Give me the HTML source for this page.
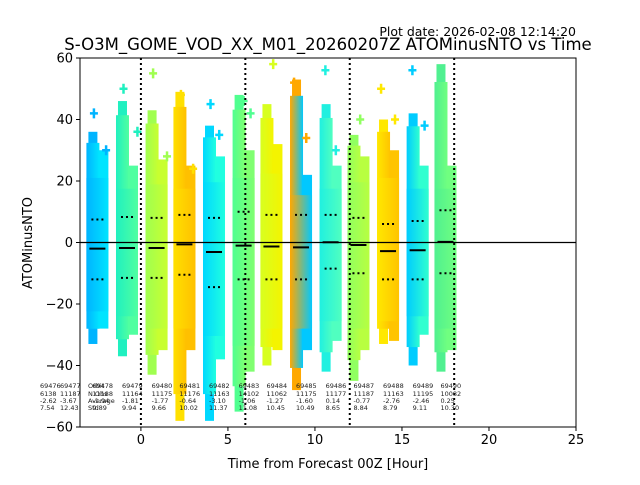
<!DOCTYPE html>
<html><head><meta charset="utf-8"><style>
body{margin:0;background:#fff;}
svg text{font-family:"DejaVu Sans","Liberation Sans",sans-serif;}
</style></head><body>
<svg id="chart" width="640" height="480" xmlns="http://www.w3.org/2000/svg">
<defs id="defs"></defs>
<text x="576" y="36" font-size="12.5" text-anchor="end">Plot date: 2026-02-08 12:14:20</text>
<text x="328" y="50" font-size="16.5" text-anchor="middle">S-O3M_GOME_VOD_XX_M01_20260207Z ATOMinusNTO vs Time</text>
<g id="plot"></g>
<text x="328" y="468" font-size="13" text-anchor="middle">Time from Forecast 00Z [Hour]</text>
<text x="32" y="243" font-size="13" text-anchor="middle" transform="rotate(-90 32 243)">ATOMinusNTO</text>
</svg>
<script>
const times=[-2.5,-0.8,0.9,2.5,4.2,5.9,7.5,9.2,10.9,12.5,14.2,15.9,17.5];
const mainTop=[36,46,43,49,38,48,45,53,45,35,40,42,58];
const mainBot=[-33,-37,-43,-58,-58,-55,-40,-48,-42,-45,-33,-40,-42];
const secTop=[30,25,27,25,28,30,32,22,25,28,30,25,25];
const secBot=[-28,-30,-35,-35,-38,-42,-35,-35,-32,-35,-32,-30,-35];
const means=[-2,-1.8,-1.8,-0.6,-3.1,-1,-1.3,-1.6,0.1,-0.8,-2.8,-2.5,0.2];
const upperDots=[7.5,8.3,8,9,8,10,9,9,9,8,6,7,10.5];
const lowerDots=[-12,-11.5,-11.5,-10.5,-14.5,-12,-12,-12,-8.5,-10,-12,-12,-10];
const colorA=["#00b4ff","#20f0c0","#a0ff50","#ffe000","#00d8ff","#50ff90","#d8ff20","#ffa800","#20f0e0","#90ff60","#ffe800","#00ccff","#50f090"];
const colorB=["#00e4ff","#50ffa0","#c8ff30","#ffc000","#20ffe0","#80ff70","#f4f400","#00c8ff","#50ffc0","#b8ff40","#ffc400","#30ffd0","#70ff80"];
const outlierT=[-2.7,-2.0,-1.0,-0.2,0.7,1.5,2.3,3.0,4.0,4.5,5.9,6.3,7.6,8.8,9.5,10.6,11.2,12.6,13.8,14.6,15.6,16.3];
const outlierV=[42,30,50,36,55,28,48,24,45,35,46,42,58,52,34,56,30,40,50,40,56,38];
const orbits=["69478","69479","69480","69481","69482","69483","69484","69485","69486","69487","69488","69489","69490"];
const nobs=["11188","11164","11175","11176","11163","14102","11062","11175","11177","11187","11163","11195","10082"];
const avgs=["-1.94","-1.81","-1.77","-0.64","-3.10","-1.06","-1.27","-1.60","0.14","-0.77","-2.76","-2.46","0.25"];
const stds=["9.89","9.94","9.66","10.02","11.37","11.08","10.45","10.49","8.65","8.84","8.79","9.11","10.30"];
const xTicks=[0,5,10,15,20,25];
const yTicks=[-60,-40,-20,0,20,40,60];
const forecastLines=[0,6,12,18];

const X0=80,X1=576,Y0=58,Y1=427;
const xmin=-3.5,xmax=25,ymin=-60,ymax=60;
const sx=v=>X0+(v-xmin)/(xmax-xmin)*(X1-X0);
const sy=v=>Y1-(v-ymin)/(ymax-ymin)*(Y1-Y0);
const NS="http://www.w3.org/2000/svg";
const plot=document.getElementById('plot');
const defs=document.getElementById('defs');
function mk(tag,attrs,parent){const e=document.createElementNS(NS,tag);for(const k in attrs)e.setAttribute(k,attrs[k]);(parent||plot).appendChild(e);return e;}

times.forEach((t,i)=>{
  const g=mk('linearGradient',{id:'g'+i,x1:0,x2:1,y1:0,y2:0},defs);
  mk('stop',{offset:0,'stop-color':colorA[i]},g);mk('stop',{offset:1,'stop-color':colorB[i]},g);
  const c=sx(t);
  const grp=mk('g',{});
  
  
  const r2=mk('rect',{x:c-9,y:sy(mainTop[i]),width:9,height:sy(mainBot[i])-sy(mainTop[i]),fill:colorA[i]},grp);
  
  
  const r1=mk('rect',{x:c-11,y:sy(mainTop[i]*0.9),width:13,height:sy(mainBot[i]*0.85)-sy(mainTop[i]*0.9),fill:'url(#g'+i+')'},grp);
  
  
  const r3=mk('rect',{x:c+1,y:sy(secTop[i]),width:10,height:sy(secBot[i])-sy(secTop[i]),fill:colorB[i]},grp);
  
  
  const r4=mk('rect',{x:c-11,y:sy(secTop[i]*0.7),width:22,height:sy(secBot[i]*0.8)-sy(secTop[i]*0.7),fill:'url(#g'+i+')'},grp);
  
  
});
outlierT.forEach((t,i)=>{
  const x=sx(t),y=sy(outlierV[i]);
  const k=times.reduce((b,tt,j)=>Math.abs(tt-t)<Math.abs(times[b]-t)?j:b,0);
  const p=mk('path',{d:`M${x-4} ${y}h8M${x} ${y-5}v10`,stroke:colorA[k],'stroke-width':2.5});
  
  
});
times.forEach((t,i)=>{
  const c=sx(t);
  const m=mk('line',{x1:c-8,x2:c+8,y1:sy(means[i]),y2:sy(means[i]),stroke:'#000','stroke-width':2});
  
  
  [upperDots[i],lowerDots[i]].forEach(v=>{
    const d=mk('line',{x1:c-6,x2:c+6,y1:sy(v),y2:sy(v),stroke:'#000','stroke-width':2,'stroke-dasharray':'2 3'});
    
    
  });
});
forecastLines.forEach(v=>{
  const l=mk('line',{x1:sx(v),x2:sx(v),y1:Y0,y2:Y1,stroke:'#000','stroke-width':2,'stroke-dasharray':'2 3'});
  
  
});
const zl=mk('line',{x1:X0,x2:X1,y1:sy(0),y2:sy(0),stroke:'#000','stroke-width':1.2});


function st(x,y,s,name){const e=mk('text',{x:x,y:y,'font-size':6.5,fill:'#222'});e.textContent=s;}
[["69476","6138","-2.62","7.54",40],["69477","11187","-3.67","12.43",60]].forEach(a=>{
  st(a[4],388,a[0],'orbit-label');st(a[4],396,a[1],'nobs-label');st(a[4],403,a[2],'average-label');st(a[4],410,a[3],'std-label');
});
st(88,388,'Orbit','row-label');st(88,396,'N Obs','row-label');st(88,403,'Average','row-label');st(88,410,'Std','row-label');
times.forEach((t,i)=>{
  const x=sx(t)-5;
  st(x,388,orbits[i],'orbit-label');st(x,396,nobs[i],'nobs-label');st(x,403,avgs[i],'average-label');st(x,410,stds[i],'std-label');
});
const fr=mk('rect',{x:X0,y:Y0,width:X1-X0,height:Y1-Y0,fill:'none',stroke:'#000','stroke-width':1});


xTicks.forEach(v=>{
  const x=sx(v);
  const l=mk('line',{x1:x,x2:x,y1:Y1,y2:Y1+4,stroke:'#000'});
  
  
  const t=mk('text',{x:x,y:Y1+17,'font-size':13,'text-anchor':'middle'});t.textContent=v;
  
  
});
yTicks.forEach(v=>{
  const y=sy(v);
  const l=mk('line',{x1:X0-4,x2:X0,y1:y,y2:y,stroke:'#000'});
  
  
  const t=mk('text',{x:X0-7,y:y+4.5,'font-size':13,'text-anchor':'end'});t.textContent=v<0?'\u2212'+(-v):v;
  
  
});
</script>
</body></html>
